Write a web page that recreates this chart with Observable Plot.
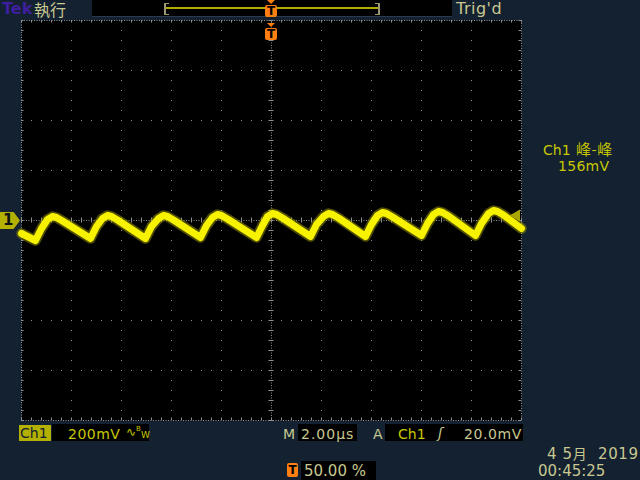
<!DOCTYPE html>
<html><head><meta charset="utf-8">
<script src="https://cdn.jsdelivr.net/npm/d3@7"></script>
<script src="https://cdn.jsdelivr.net/npm/@observablehq/plot@0.6"></script>
<style>
html,body{margin:0;padding:0;background:#132130;}
#scope{position:relative;width:640px;height:480px;background:#132130;overflow:hidden;font-family:"DejaVu Sans",sans-serif;}
#scope svg{position:absolute;left:0;top:0;}
.lbl{position:absolute;white-space:nowrap;line-height:1;}
.box{position:absolute;background:#000;}
.cjk{font-family:'Noto Sans CJK JP',sans-serif;}
</style></head><body><div id="scope"></div>
<script>
// ---- waveform samples (time in µs, voltage in mV) ----
const timeUs = [-10.00, -9.44, -9.20, -8.96, -8.76, -8.60, -8.36,
  -7.24, -7.00, -6.76, -6.56, -6.40, -6.16,
  -5.04, -4.80, -4.52, -4.32, -4.16, -3.92,
  -2.84, -2.60, -2.36, -2.16, -2.00, -1.76,
  -0.60, -0.36, -0.16, 0.04, 0.20, 0.44,
  1.56, 1.80, 2.08, 2.28, 2.44, 2.68,
  3.76, 4.00, 4.24, 4.44, 4.60, 4.84,
  6.00, 6.24, 6.48, 6.68, 6.84, 7.08,
  8.16, 8.40, 8.68, 8.88, 9.04, 9.28, 10.00];
const voltMv = [-52, -80, -32, 4, 16, 12, -2,
  -72, -24, 8, 20, 16, 2,
  -72, -24, 8, 20, 16, 2,
  -68, -20, 12, 24, 20, 6,
  -68, -20, 16, 28, 24, 10,
  -64, -16, 16, 28, 24, 10,
  -64, -16, 20, 32, 28, 14,
  -60, -12, 24, 36, 32, 18,
  -60, -12, 28, 40, 36, 22, -32];

// ---- scope settings ----
const hDivUs = 2.0;      // M 2.00µs
const vDivMv = 200;      // Ch1 200mV
const trigLevelMv = 20.0;
const trigPosUs = 0;
const hDivs = 10, vDivs = 8;

// ---- screen texts ----
const topTexts = ["Tek", "執行", "Trig'd"];
const measTexts = ["Ch1", "峰-峰", "156mV"];
const bottomTexts = ["Ch1", "200mV", "M", "2.00µs", "A", "Ch1", "20.0mV", "50.00 %"];
const dateTexts = ["4", "5月", "2019", "00:45:25"];

const W = 640, H = 480, mL = 21, mR = 119, mT = 20, mB = 60;
const xDomain = [-hDivs / 2 * hDivUs, hDivs / 2 * hDivUs];
const yDomain = [-vDivs / 2 * vDivMv, vDivs / 2 * vDivMv];
const majorX = d3.range(-hDivs / 2 + 1, hDivs / 2).filter(d => d !== 0).map(d => d * hDivUs);
const majorY = d3.range(-vDivs / 2 + 1, vDivs / 2).filter(d => d !== 0).map(d => d * vDivMv);
const minorX = d3.range(-hDivs / 2 * 5, hDivs / 2 * 5 + 1).map(i => i * hDivUs / 5);
const minorY = d3.range(-vDivs / 2 * 5, vDivs / 2 * 5 + 1).map(i => i * vDivMv / 5);
const wave = timeUs.map((t, i) => ({t, v: voltMv[i]}));
const trig = [{t: xDomain[1], v: trigLevelMv}];

const grid = "#8e8e8e";
const KHAKI = "#c8c890", YEL = "#c8c800", ORANGE = "#ff7f10";

const chart = Plot.plot({
  width: W, height: H, marginLeft: mL, marginRight: mR, marginTop: mT, marginBottom: mB,
  x: {domain: xDomain, axis: null},
  y: {domain: yDomain, axis: null},
  style: {background: "transparent", overflow: "visible"},
  marks: [
    Plot.frame({fill: "#000"}),
    Plot.ruleX(majorX, {stroke: grid, strokeDasharray: "1,9"}),
    Plot.ruleY(majorY, {stroke: grid, strokeDasharray: "1,9"}),
    Plot.ruleX([0], {stroke: grid, strokeDasharray: "1,1.5"}),
    Plot.ruleY([0], {stroke: grid, strokeDasharray: "1,1.5"}),
    Plot.ruleX(minorX, {y1: -vDivMv * 0.05, y2: vDivMv * 0.05, stroke: grid}),
    Plot.ruleY(minorY, {x1: -hDivUs * 0.05, x2: hDivUs * 0.05, stroke: grid}),
    Plot.ruleX(minorX, {y1: yDomain[1], y2: yDomain[1] - vDivMv * 0.05, stroke: grid}),
    Plot.ruleX(minorX, {y1: yDomain[0], y2: yDomain[0] + vDivMv * 0.05, stroke: grid}),
    Plot.ruleY(minorY, {x1: xDomain[0], x2: xDomain[0] + hDivUs * 0.05, stroke: grid}),
    Plot.ruleY(minorY, {x1: xDomain[1], x2: xDomain[1] - hDivUs * 0.05, stroke: grid}),
    Plot.frame({stroke: grid, strokeDasharray: "1,1.5"}),
    Plot.line(wave, {x: "t", y: "v", stroke: "#a09c00", strokeWidth: 10.5, strokeOpacity: 0.5, strokeLinejoin: "round", strokeLinecap: "round"}),
    Plot.line(wave, {x: "t", y: "v", stroke: "#f6f200", strokeWidth: 7, strokeLinejoin: "round", strokeLinecap: "round"}),
    Plot.ruleY(trig, {x1: "t", x2: "t", y: "v", dx: -3, stroke: "#a8a400"}),
    Plot.dot(trig, {x: "t", y: "v", symbol: "triangle", rotate: -90, r: 4.5, dx: -5, fill: "#a8a400", stroke: "none"})
  ]
});

const root = document.getElementById("scope");
root.appendChild(chart);
const sx = chart.scale("x"), sy = chart.scale("y");

function el(cls, css, html) {
  const d = document.createElement("div");
  d.className = cls;
  Object.assign(d.style, css);
  if (html !== undefined) d.innerHTML = html;
  root.appendChild(d);
  return d;
}
function px(o) { const r = {}; for (const k in o) r[k] = typeof o[k] === "number" ? o[k] + "px" : o[k]; return r; }

// ---- top bar ----
el("lbl", px({left: 2, top: 1, fontSize: "16px", fontWeight: "bold", color: "#3e1f9e"}), topTexts[0]);
el("lbl cjk", px({left: 34, top: 1, fontSize: "16px", color: KHAKI, height: 16, lineHeight: "16px"}), topTexts[1]);
el("box", px({left: 92, top: 0, width: 360, height: 16, borderBottom: "1px solid #2a3a50"}));
el("box", px({left: 166, top: 7, width: 213, height: 2, background: "#b0ac00"}));
el("box", px({left: 164, top: 3, width: 2, height: 12, background: "#9c9870"}));
el("box", px({left: 165, top: 3, width: 4, height: 1, background: "#9c9870"}));
el("box", px({left: 165, top: 14, width: 4, height: 1, background: "#9c9870"}));
el("box", px({left: 378, top: 3, width: 2, height: 12, background: "#9c9870"}));
el("box", px({left: 375, top: 3, width: 4, height: 1, background: "#9c9870"}));
el("box", px({left: 375, top: 14, width: 4, height: 1, background: "#9c9870"}));
el("lbl", px({left: 456, top: 1, fontSize: "16px", color: KHAKI, letterSpacing: "0.5px"}), topTexts[2]);

// trigger position markers (from x scale)
const tx = sx.apply(trigPosUs);
function trigMark(top) {
  el("box", px({left: tx - 4, top: top, width: 0, height: 0, background: "transparent",
    borderLeft: "4px solid transparent", borderRight: "4px solid transparent", borderTop: "4px solid " + ORANGE}));
  el("lbl", px({left: tx - 6, top: top + 5, width: 12, height: 12, background: ORANGE, borderRadius: "2px",
    color: "#000", fontSize: "12px", fontWeight: "bold", textAlign: "center", lineHeight: "12px"}), "T");
}
trigMark(0);
trigMark(23);

// ground marker (from y scale)
const gy = sy.apply(0);
el("lbl", px({left: 0, top: gy - 8, width: 20, height: 17, background: "#b4b000",
  clipPath: "polygon(0 0, 68% 0, 100% 50%, 68% 100%, 0 100%)", color: "#111",
  fontSize: "15px", fontWeight: "bold", lineHeight: "17px", textIndent: "3px"}), "1");

// ---- right measurement ----
el("lbl", px({left: 543, top: 142, fontSize: "14px", color: YEL, height: 16, lineHeight: "16px"}),
  measTexts[0]);
el("lbl cjk", px({left: 576, top: 140, fontSize: "15px", color: YEL, height: 17, lineHeight: "17px", letterSpacing: "0.5px"}),
  measTexts[1]);
el("lbl", px({left: 558, top: 159, fontSize: "14px", color: YEL, height: 14, letterSpacing: "0.3px"}), measTexts[2]);

// ---- bottom row ----
el("lbl", px({left: 19, top: 425, width: 32, height: 16, background: "#b4b000", color: "#132130",
  fontSize: "14px", lineHeight: "17px", textIndent: "1px"}), bottomTexts[0]);
el("box", px({left: 52, top: 424, width: 97, height: 17}));
el("lbl", px({left: 68, top: 427, fontSize: "14px", color: YEL, letterSpacing: "0.5px"}), bottomTexts[1]);
el("lbl", px({left: 126, top: 426, fontSize: "12px", color: YEL}),
  "∿<span style=\"font-size:7px;vertical-align:5px\">B</span><span style=\"font-size:9px;vertical-align:-2px\">W</span>");
el("lbl", px({left: 283, top: 427, fontSize: "14px", color: KHAKI}), bottomTexts[2]);
el("box", px({left: 298, top: 424, width: 59, height: 17}));
el("lbl", px({left: 301, top: 427, fontSize: "14px", color: KHAKI, letterSpacing: "1px"}), bottomTexts[3]);
el("lbl", px({left: 373, top: 427, fontSize: "14px", color: KHAKI}), bottomTexts[4]);
el("box", px({left: 385, top: 424, width: 138, height: 17}));
el("lbl", px({left: 398, top: 427, fontSize: "14px", color: YEL}), bottomTexts[5]);
el("lbl", px({left: 438, top: 426, fontSize: "14px", color: KHAKI, fontStyle: "italic"}), "ʃ");
el("lbl", px({left: 464, top: 427, fontSize: "14px", color: KHAKI, letterSpacing: "0.6px"}), bottomTexts[6]);

el("lbl", px({left: 287, top: 463, width: 11, height: 14, background: ORANGE, color: "#000", borderRadius: "2px",
  fontSize: "12px", fontWeight: "bold", textAlign: "center", lineHeight: "14px"}), "T");
el("box", px({left: 301, top: 461, width: 75, height: 19}));
el("lbl", px({left: 304, top: 464, fontSize: "15px", color: KHAKI}), bottomTexts[7]);

el("lbl", px({left: 547, top: 446, fontSize: "15px", color: KHAKI, height: 15, lineHeight: "15px", letterSpacing: "0.6px"}),
  dateTexts[0] + "&nbsp;" + dateTexts[1].replace("月", "<span class=\"cjk\" style=\"font-size:14px;line-height:15px\">月</span>") + "&nbsp;&nbsp;" + dateTexts[2]);
el("lbl", px({left: 538, top: 464, fontSize: "15px", color: KHAKI}), dateTexts[3]);
</script></body></html>
